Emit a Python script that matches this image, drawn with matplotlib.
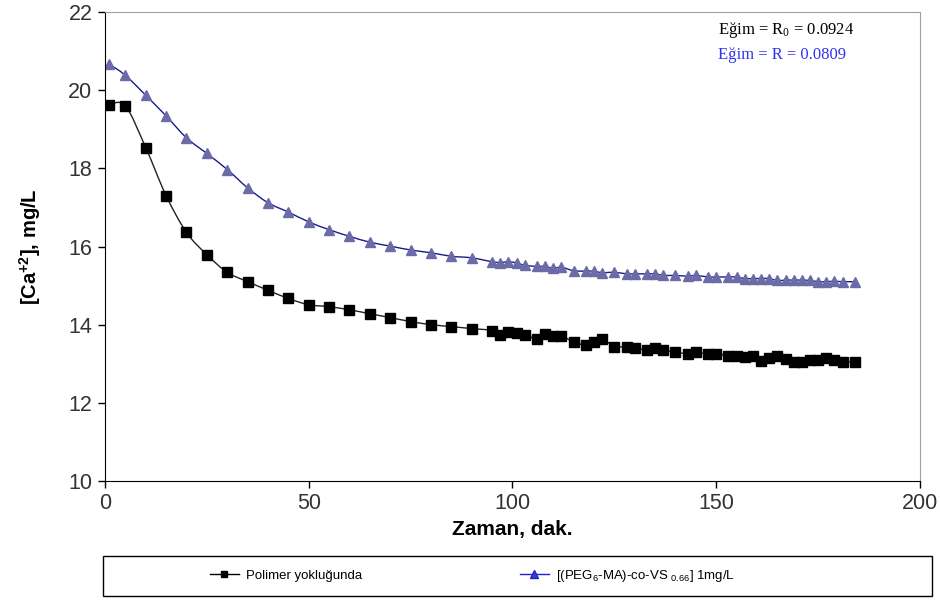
import numpy as np
import matplotlib.pyplot as plt
from matplotlib.path import Path
from matplotlib.patches import PathPatch, Rectangle
from matplotlib.lines import Line2D

plt.rcParams['font.family'] = ['Liberation Sans', 'DejaVu Sans']

# zaman (dak.)
zaman = [1, 5, 10, 15, 20, 25, 30, 35, 40, 45, 50, 55, 60, 65, 70, 75, 80, 85, 90,
         95, 97, 99, 101, 103, 106, 108, 110, 112, 115, 118, 120, 122, 125, 128, 130,
         133, 135, 137, 140, 143, 145, 148, 150, 153, 155, 157, 159, 161, 163, 165,
         167, 169, 171, 173, 175, 177, 179, 181, 184]

# polimer yoklugunda
ca_blank = [19.63, 19.60, 18.53, 17.30, 16.36, 15.79, 15.34, 15.10, 14.88, 14.67, 14.51,
            14.46, 14.38, 14.28, 14.18, 14.08, 14.00, 13.95, 13.90,
            13.85, 13.73, 13.82, 13.79, 13.74, 13.64, 13.75, 13.71, 13.71, 13.56, 13.48,
            13.56, 13.64, 13.44, 13.44, 13.41, 13.35, 13.39, 13.34, 13.30, 13.25, 13.29,
            13.25, 13.25, 13.21, 13.19, 13.16, 13.21, 13.08, 13.15, 13.19, 13.13, 13.04,
            13.04, 13.10, 13.10, 13.15, 13.10, 13.05, 13.05]

# (PEG6-MA)-co-VS 0.66, 1 mg/L
ca_peg = [20.67, 20.38, 19.87, 19.34, 18.78, 18.38, 17.97, 17.50, 17.12, 16.88, 16.63,
          16.43, 16.26, 16.11, 16.01, 15.91, 15.84, 15.75, 15.71,
          15.61, 15.59, 15.61, 15.58, 15.52, 15.49, 15.49, 15.44, 15.47, 15.38, 15.37,
          15.37, 15.33, 15.34, 15.30, 15.30, 15.30, 15.30, 15.26, 15.26, 15.24, 15.26,
          15.22, 15.22, 15.22, 15.22, 15.18, 15.18, 15.18, 15.18, 15.13, 15.14, 15.14,
          15.14, 15.13, 15.10, 15.10, 15.11, 15.10, 15.10]

labels = ['Polimer yokluğunda', '[(PEG$\\mathregular{_6}$-MA)-co-VS $\\mathregular{_{0.66}}$] 1mg/L']


def smooth_path(x, y):
    # excel-like smoothed line through the points
    pts = np.column_stack([x, y])
    n = len(pts)
    verts = [pts[0]]
    codes = [Path.MOVETO]
    for i in range(n - 1):
        p0 = pts[max(i - 1, 0)]
        p1 = pts[i]
        p2 = pts[i + 1]
        p3 = pts[min(i + 2, n - 1)]
        verts += [p1 + (p2 - p0) / 6, p2 - (p3 - p1) / 6, p2]
        codes += [Path.CURVE4] * 3
    return Path(verts, codes)


fig = plt.figure(figsize=(9.4, 6.01), dpi=100)
ax = fig.add_axes([0.1117, 0.1997, 0.867, 0.7803])

ax.add_patch(PathPatch(smooth_path(zaman, ca_blank), fill=False, edgecolor='#222222', lw=1))
ax.add_patch(PathPatch(smooth_path(zaman, ca_peg), fill=False, edgecolor='#1a1a8c', lw=1))
ax.plot(zaman, ca_blank, ls='none', marker='s', ms=6.5, color='black')
ax.plot(zaman, ca_peg, ls='none', marker='^', ms=7.5, color='#6b6ba8')

ax.set_xlim(0, 200)
ax.set_ylim(10, 22)
ax.set_xticks([0, 50, 100, 150, 200])
ax.set_yticks([10, 12, 14, 16, 18, 20, 22])
ax.tick_params(direction='out', length=5, width=1, labelsize=15.5, labelcolor='#333333', pad=4)
for s in ['top', 'right']:
    ax.spines[s].set_color('#a0a0a0')
for s in ['left', 'bottom']:
    ax.spines[s].set_color('black')

ax.set_ylabel('[Ca$\\mathregular{^{+2}}$], mg/L', fontsize=14.5, fontweight='bold', labelpad=18)
ax.set_xlabel('Zaman, dak.', fontsize=15, fontweight='bold', labelpad=4)

fig.text(718 / 940, 1 - 30 / 601, 'Eğim = R$\\mathregular{_0}$ = 0.0924', family='Liberation Serif',
         fontsize=12, color='black', va='center')
fig.text(718 / 940, 1 - 55 / 601, 'Eğim = R = 0.0809', family='Liberation Serif',
         fontsize=12, color='#3333ee', va='center')

# legend box below the plot
fig.patches.append(Rectangle((103 / 940, 5 / 601), 829 / 940, 40 / 601, transform=fig.transFigure,
                             fill=False, edgecolor='black', lw=1))
handles = [Line2D([], [], color='black', marker='s', ms=5, lw=1),
           Line2D([], [], color='#2222cc', marker='^', ms=5.5, mfc='#3344bb', lw=1)]
fig.legend(handles, labels, loc='center left', bbox_to_anchor=(198 / 940, 1 - 576 / 601), ncol=2,
           frameon=False, fontsize=9.5, handlelength=2.2, handletextpad=0.5, columnspacing=12)

fig.savefig('out.png', dpi=100)
